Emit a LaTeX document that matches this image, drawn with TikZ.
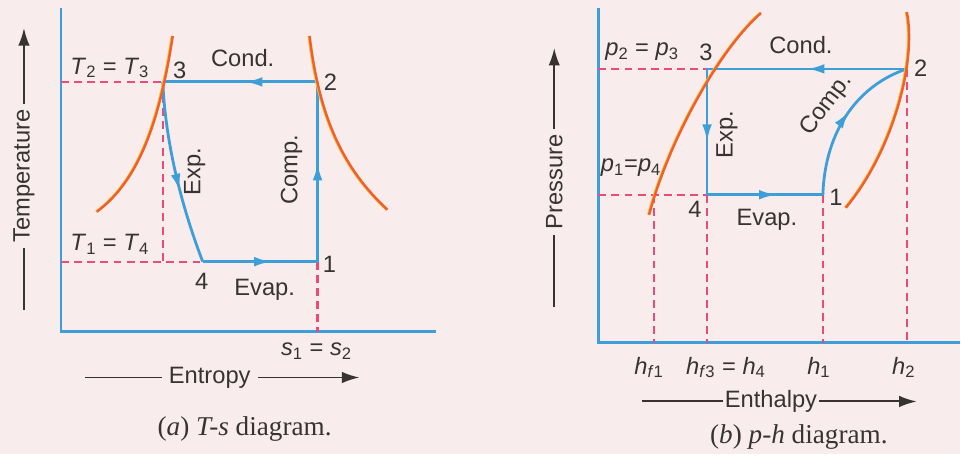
\documentclass[tikz,border=0pt]{standalone}
\usepackage{fontspec}
\setmainfont{Liberation Serif}
\setsansfont{Liberation Sans}
\usetikzlibrary{arrows.meta,decorations.markings}

\definecolor{cycblue}{HTML}{3E9FD8}
\definecolor{satred}{HTML}{F0602A}
\definecolor{satyellow}{HTML}{F6C23A}
\definecolor{dashred}{HTML}{EC4A78}
\definecolor{paper}{HTML}{F8ECEC}
\definecolor{inkgray}{HTML}{383333}

\newcommand{\sym}[2]{\textit{#1}\textsubscript{#2}}

\begin{document}
\begin{tikzpicture}[x=0.02cm, y=-0.02cm,
    font=\sffamily\fontsize{13.5}{15}\selectfont, text=inkgray,
    axisline/.style={cycblue, line width=1.5pt},
    cycleline/.style={cycblue, line width=1.6pt},
    guide/.style={dashred, line width=1.3pt, dash pattern=on 4.5pt off 3pt},
    satline/.style={satred, line width=1.4pt,
        preaction={draw=satyellow, line width=1.4pt, transform canvas={xshift=-0.5pt}}},
    flow/.style={postaction={decorate}, decoration={markings,
        mark=at position #1 with {\arrow{Latex[length=10pt,width=5.5pt]}}}},
    flow/.default=0.5,
    quantity/.style={inkgray, line width=1.1pt},
    caption/.style={font=\rmfamily\fontsize{15.5}{17}\selectfont}]

    % PAPER
    \fill[paper] (0,0) rectangle (961,455);

    % ===== (a) T-s DIAGRAM =====
    \coordinate (ts-o) at (61,332);
    \coordinate (ts-ytop) at (61,8);
    \coordinate (ts-xend) at (437,332);
    \draw[axisline] (ts-ytop) -- (ts-o) -- (ts-xend);

    % state points
    \coordinate (ts1) at (318,262);
    \coordinate (ts2) at (318,82);
    \coordinate (ts3) at (163,82);
    \coordinate (ts4) at (203,262);
    \coordinate (ts-T23) at (61,82);
    \coordinate (ts-T14) at (61,262);
    \coordinate (ts3-foot) at (163,262);
    \coordinate (ts-s12) at (318,332);

    % dashed guides
    \draw[guide] (ts-T23) -- (ts3);
    \draw[guide] (ts-T14) -- (ts4);
    \draw[guide] (ts3) -- (ts3-foot);
    \draw[guide] (ts1) -- (ts-s12);

    % cycle
    \draw[cycleline, flow=0.47] (ts2) -- (ts3);
    \draw[cycleline, flow=0.6] (ts3) .. controls (166,150) and (185,215) .. (ts4);
    \draw[cycleline, flow=0.6] (ts4) -- (ts1);
    \draw[cycleline, flow=0.55] (ts1) -- (ts2);

    % saturation curves
    \draw[satline] (97,212) .. controls (140,180) and (160,120) .. (173,36);
    \draw[satline] (310,36) .. controls (320,120) and (345,170) .. (388,210);

    % labels
    \node (ts-lT23) at (110,68) {\sym{T}{2} = \sym{T}{3}};
    \node (ts-l3) at (180,70) {3};
    \node (ts-cond) at (243,58) {Cond.};
    \node (ts-l2) at (331,82) {2};
    \node[rotate=90] (ts-exp) at (195,172) {Exp.};
    \node[rotate=90] (ts-comp) at (292,170) {Comp.};
    \node (ts-lT14) at (110,245) {\sym{T}{1} = \sym{T}{4}};
    \node (ts-l4) at (202,282) {4};
    \node (ts-l1) at (330,265) {1};
    \node (ts-evap) at (265,290) {Evap.};
    \node (ts-ls12) at (317,352) {\sym{s}{1} = \sym{s}{2}};

    % quantity arrows
    \node[rotate=90, inner sep=3pt] (ts-temp) at (24,176) {Temperature};
    \coordinate (ts-temp-lo) at (24,310);
    \coordinate (ts-temp-hi) at (24,28);
    \draw[quantity] (ts-temp-lo) -- (ts-temp.west);
    \draw[quantity, -{Latex[length=10pt,width=6.5pt]}] (ts-temp.east) -- (ts-temp-hi);
    \node[inner sep=4pt] (ts-ent) at (210,378) {Entropy};
    \coordinate (ts-ent-lo) at (85,378);
    \coordinate (ts-ent-hi) at (360,378);
    \draw[quantity] (ts-ent-lo) -- (ts-ent.west);
    \draw[quantity, -{Latex[length=10pt,width=6.5pt]}] (ts-ent.east) -- (ts-ent-hi);

    \node[caption] (ts-cap) at (245,430) {(\textit{a}) \textit{T-s} diagram.};

    % ===== (b) p-h DIAGRAM =====
    \coordinate (ph-o) at (599,343);
    \coordinate (ph-ytop) at (599,8);
    \coordinate (ph-xend) at (961,343);
    \draw[axisline] (ph-ytop) -- (ph-o) -- (ph-xend);

    % state points
    \coordinate (ph1) at (824,195);
    \coordinate (ph2) at (908,69);
    \coordinate (ph3) at (708,69);
    \coordinate (ph4) at (708,195);
    \coordinate (ph-p23) at (599,69);
    \coordinate (ph-p14) at (599,195);
    \coordinate (ph-f1) at (655,195);
    \coordinate (ph-hf1) at (655,343);
    \coordinate (ph-h4) at (708,343);
    \coordinate (ph-h1) at (824,343);
    \coordinate (ph-h2) at (908,343);

    % dashed guides
    \draw[guide] (ph-p23) -- (ph3);
    \draw[guide] (ph-p14) -- (ph4);
    \draw[guide] (ph-f1) -- (ph-hf1);
    \draw[guide] (ph4) -- (ph-h4);
    \draw[guide] (ph1) -- (ph-h1);
    \draw[guide] (ph2) -- (ph-h2);

    % cycle
    \draw[cycleline, flow=0.5] (ph2) -- (ph3);
    \draw[cycleline, flow=0.58] (ph3) -- (ph4);
    \draw[cycleline, flow=0.6] (ph4) -- (ph1);
    \draw[cycleline, flow=0.55] (ph1) .. controls (826,130) and (860,85) .. (ph2);

    % saturation curves
    \draw[satline] (650,215) .. controls (670,140) and (720,50) .. (762,13);
    \draw[satline] (908,12) .. controls (918,60) and (895,150) .. (847,208);

    % labels
    \node (ph-lp23) at (643,52) {\sym{p}{2} = \sym{p}{3}};
    \node (ph-l3) at (707,52) {3};
    \node (ph-cond) at (802,45) {Cond.};
    \node (ph-l2) at (922,68) {2};
    \node[rotate=90] (ph-exp) at (728,135) {Exp.};
    \node[rotate=53, inner sep=0pt] (ph-comp) at (828,105) {Comp.};
    \node (ph-lp14) at (632,168) {\sym{p}{1}=\sym{p}{4}};
    \node (ph-l4) at (696,210) {4};
    \node (ph-l1) at (837,198) {1};
    \node (ph-evap) at (768,220) {Evap.};
    \node (ph-lhf1) at (650,368) {\sym{h}{\textit{f}1}};
    \node (ph-lh4) at (727,368) {\sym{h}{\textit{f}3} = \sym{h}{4}};
    \node (ph-lh1) at (820,368) {\sym{h}{1}};
    \node (ph-lh2) at (905,368) {\sym{h}{2}};

    % quantity arrows
    \node[rotate=90, inner sep=3pt] (ph-pres) at (555,182) {Pressure};
    \coordinate (ph-pres-lo) at (555,307);
    \coordinate (ph-pres-hi) at (555,48);
    \draw[quantity] (ph-pres-lo) -- (ph-pres.west);
    \draw[quantity, -{Latex[length=10pt,width=6.5pt]}] (ph-pres.east) -- (ph-pres-hi);
    \node[inner sep=1pt] (ph-enth) at (772,402) {Enthalpy};
    \coordinate (ph-enth-lo) at (643,402);
    \coordinate (ph-enth-hi) at (918,402);
    \draw[quantity] (ph-enth-lo) -- (ph-enth.west);
    \draw[quantity, -{Latex[length=10pt,width=6.5pt]}] (ph-enth.east) -- (ph-enth-hi);

    \node[caption] (ph-cap) at (800,438) {(\textit{b}) \textit{p-h} diagram.};

\end{tikzpicture}
\end{document}
